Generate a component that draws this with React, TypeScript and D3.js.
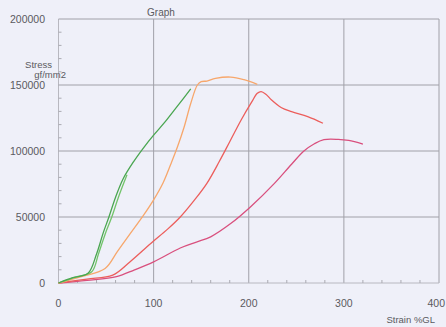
import React from "react";
import * as d3 from "d3";

const W = 446;
const H = 327;

const xTicks = [0, 100, 200, 300, 400];
const yTicks = [0, 50000, 100000, 150000, 200000];

const greenDarkX = [0, 15, 31, 40, 47, 53, 60, 68, 79, 90, 100, 112, 125, 139];
const greenDarkY = [0, 4000, 7300, 22000, 38000, 50000, 65000, 79000, 92000, 103000, 112000, 122000, 134000, 147000];

const greenLightX = [0, 18, 35, 42, 49, 56, 63, 72];
const greenLightY = [0, 4500, 8500, 22000, 37000, 50000, 65000, 82000];

const orangeX = [0, 25, 49, 62, 75, 90, 100, 110, 118, 125, 132, 139, 146, 150, 156, 165, 181, 195, 209];
const orangeY = [0, 5000, 11000, 24000, 37000, 52000, 63000, 76000, 90000, 103000, 118000, 136000, 150000, 152500, 153000, 155000, 156000, 154000, 150500];

const redX = [0, 30, 57, 75, 97, 115, 128, 142, 156, 169, 180, 192, 203, 209, 213, 218, 224, 234, 245, 262, 278];
const redY = [0, 3000, 6000, 16000, 30000, 41000, 50000, 62000, 75500, 92000, 107000, 123500, 137000, 143700, 145000, 143000, 138600, 133000, 129800, 126000, 121000];

const pinkX = [0, 30, 61, 80, 100, 128, 145, 160, 181, 202, 227, 245, 258, 269, 279, 294, 305, 320];
const pinkY = [0, 2000, 4800, 10000, 16000, 26500, 31000, 35000, 45000, 57800, 75500, 90000, 100000, 105500, 108600, 108800, 108000, 105300];

const series = [
  { xs: pinkX, ys: pinkY, color: "#d9507e" },
  { xs: redX, ys: redY, color: "#ec5e5c" },
  { xs: orangeX, ys: orangeY, color: "#f7a76c" },
  { xs: greenLightX, ys: greenLightY, color: "#72c46a" },
  { xs: greenDarkX, ys: greenDarkY, color: "#4aa651" },
];

export default function App() {
  const x = d3.scaleLinear().domain([0, 400]).range([58.5, 439]);
  const y = d3.scaleLinear().domain([0, 200000]).range([283, 19]);
  const line = d3
    .line<[number, number]>()
    .x((d) => x(d[0]))
    .y((d) => y(d[1]))
    .curve(d3.curveCatmullRom.alpha(0.5));

  const xMinor = d3.range(0, 401, 20).filter((v) => v % 100 !== 0);
  const yMinor = d3.range(0, 200001, 10000).filter((v) => v % 50000 !== 0);
  const font = "Liberation Sans, Arial, sans-serif";
  const grid = "#a0a0a8";
  const txt = "#5a5a60";

  return (
    <svg
      width={W}
      height={H}
      style={{ position: "absolute", left: 0, top: 0, background: "#eff0f9" }}
    >
      <rect x={0} y={0} width={W} height={H} fill="#eff0f9" />
      <text x={161} y={16} textAnchor="middle" fontFamily={font} fontSize={10} fill={txt}>
        Graph
      </text>
      {xTicks.map((t) => (
        <line key={"gx" + t} x1={x(t)} x2={x(t)} y1={y(0)} y2={y(200000)} stroke={t === 0 ? "#b8b8c0" : grid} strokeWidth={1} />
      ))}
      {yTicks.map((t) => (
        <line key={"gy" + t} x1={x(0)} x2={x(400)} y1={y(t)} y2={y(t)} stroke={t === 0 ? "#b8b8c0" : grid} strokeWidth={1} />
      ))}
      {xMinor.map((t) => (
        <line key={"mx" + t} x1={x(t)} x2={x(t)} y1={y(0)} y2={y(0) - 3} stroke="#aaaab2" strokeWidth={1} />
      ))}
      {yMinor.map((t) => (
        <line key={"my" + t} x1={x(0)} x2={x(0) + 3} y1={y(t)} y2={y(t)} stroke="#aaaab2" strokeWidth={1} />
      ))}
      {yTicks.map((t) => (
        <text key={"ly" + t} x={45} y={y(t) + 4} textAnchor="end" fontFamily={font} fontSize={10.5} fill={txt}>
          {t}
        </text>
      ))}
      {xTicks.map((t) => (
        <text
          key={"lx" + t}
          x={t === 400 ? 445 : x(t)}
          y={307}
          textAnchor={t === 400 ? "end" : "middle"}
          fontFamily={font}
          fontSize={10.5}
          fill={txt}
        >
          {t}
        </text>
      ))}
      <text x={52} y={68} textAnchor="end" fontFamily={font} fontSize={9.5} fill={txt}>
        Stress
      </text>
      <text x={66} y={78} textAnchor="end" fontFamily={font} fontSize={9.5} fill={txt}>
        gf/mm2
      </text>
      <text x={435} y={323} textAnchor="end" fontFamily={font} fontSize={9.5} fill={txt}>
        Strain %GL
      </text>
      {series.map((s, i) => (
        <path
          key={"s" + i}
          d={line(s.xs.map((v, j) => [v, s.ys[j]] as [number, number])) || ""}
          fill="none"
          stroke={s.color}
          strokeWidth={1.3}
        />
      ))}
    </svg>
  );
}
